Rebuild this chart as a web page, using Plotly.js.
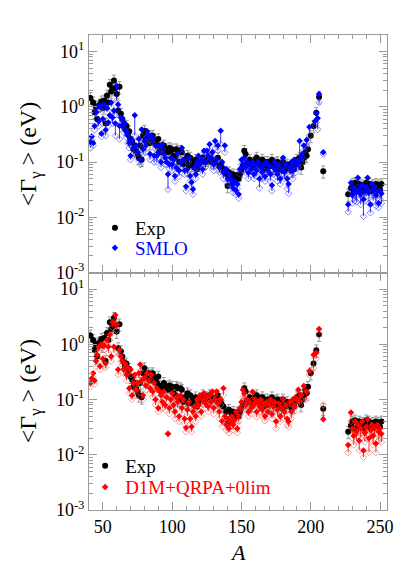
<!DOCTYPE html>
<html>
<head>
<meta charset="utf-8">
<script src="https://cdn.plot.ly/plotly-3.0.1.min.js"></script>
<style>
  html, body { margin: 0; padding: 0; background: #fff; }
  #chart { width: 415px; height: 588px; }
</style>
</head>
<body>
<div id="chart"></div>
<script>
// experimental average radiative widths <Gamma_gamma> (eV) vs mass number A
const expA = [
  41, 43, 44, 45, 46, 47, 48, 49, 50, 51,
  52, 53, 54, 55, 56, 57, 58, 59, 60, 61,
  62, 63, 64, 65, 66, 67, 68, 69, 70, 71,
  72, 73, 74, 75, 76, 77, 78, 79, 80, 81,
  82, 83, 84, 85, 86, 87, 88, 89, 90, 91,
  92, 93, 94, 95, 96, 97, 98, 99, 100, 101,
  102, 103, 104, 105, 106, 107, 108, 109, 110, 111,
  112, 113, 114, 115, 116, 117, 118, 119, 121, 122,
  123, 124, 125, 127, 128, 129, 131, 133, 134, 135,
  136, 137, 139, 140, 141, 143, 144, 145, 147, 148,
  149, 150, 151, 152, 153, 154, 155, 156, 157, 158,
  159, 160, 161, 162, 163, 164, 165, 166, 167, 168,
  169, 170, 171, 172, 173, 174, 175, 176, 177, 178,
  179, 180, 181, 182, 183, 185, 186, 187, 188, 189,
  190, 191, 192, 193, 194, 195, 196, 197, 198, 200,
  202, 204, 206, 209, 227, 229, 230, 231, 232, 233,
  234, 235, 236, 237, 238, 239, 240, 241, 242, 243,
  244, 245, 246, 247, 248, 249, 250, 251
];
const expG = [
  1.45, 1.2, 0.8, 1.0, 0.6, 1.05, 1.1, 1.25, 0.95, 1.3,
  0.5, 1.6, 1.2, 2.5, 1.9, 2.1, 3.0, 2.2, 1.7, 0.85,
  2.3, 0.75, 0.6, 0.48, 0.4, 0.45, 0.33, 0.36, 0.26, 0.23,
  0.17, 0.2, 0.16, 0.14, 0.12, 0.2, 0.11, 0.3, 0.37, 0.26,
  0.25, 0.3, 0.22, 0.28, 0.3, 0.25, 0.22, 0.2, 0.26, 0.18,
  0.15, 0.17, 0.2, 0.16, 0.17, 0.15, 0.18, 0.16, 0.17, 0.13,
  0.12, 0.17, 0.16, 0.1, 0.16, 0.15, 0.09, 0.11, 0.1, 0.13,
  0.085, 0.12, 0.09, 0.1, 0.08, 0.11, 0.075, 0.09, 0.1, 0.12,
  0.11, 0.1, 0.11, 0.12, 0.1, 0.11, 0.1, 0.12, 0.085, 0.09,
  0.08, 0.075, 0.06, 0.037, 0.065, 0.055, 0.06, 0.05, 0.058, 0.05,
  0.06, 0.07, 0.085, 0.16, 0.14, 0.09, 0.1, 0.11, 0.095, 0.08,
  0.1, 0.11, 0.12, 0.09, 0.1, 0.085, 0.11, 0.075, 0.1, 0.08,
  0.1, 0.09, 0.085, 0.11, 0.09, 0.08, 0.095, 0.1, 0.075, 0.09,
  0.07, 0.1, 0.085, 0.075, 0.09, 0.08, 0.07, 0.085, 0.075, 0.09,
  0.11, 0.1, 0.12, 0.08, 0.1, 0.12, 0.15, 0.13, 0.17, 0.3,
  0.45, 0.78, 1.5, 0.068, 0.026, 0.034, 0.04, 0.03, 0.042, 0.03,
  0.036, 0.04, 0.032, 0.038, 0.03, 0.035, 0.042, 0.033, 0.04, 0.036,
  0.03, 0.038, 0.033, 0.04, 0.035, 0.038, 0.032, 0.04
];

// SMLO: filled symbol and open symbol values for each nucleus
const smloA = [
  41, 42, 43, 44, 45, 46, 47, 48, 49, 50,
  51, 52, 53, 54, 55, 56, 57, 58, 59, 60,
  61, 62, 63, 64, 65, 66, 67, 68, 69, 70,
  71, 72, 73, 74, 75, 76, 77, 78, 79, 80,
  81, 82, 83, 84, 85, 86, 87, 88, 89, 90,
  91, 92, 93, 94, 95, 96, 97, 98, 99, 100,
  101, 102, 103, 104, 105, 106, 107, 108, 109, 110,
  111, 112, 113, 114, 115, 116, 117, 118, 119, 120,
  121, 122, 123, 124, 125, 126, 127, 128, 129, 130,
  131, 132, 133, 134, 135, 136, 137, 138, 139, 140,
  141, 142, 143, 144, 145, 146, 147, 148, 149, 150,
  151, 152, 153, 154, 155, 156, 157, 158, 159, 160,
  161, 162, 163, 164, 165, 166, 167, 168, 169, 170,
  171, 172, 173, 174, 175, 176, 177, 178, 179, 180,
  181, 182, 183, 184, 185, 186, 187, 188, 189, 190,
  191, 192, 193, 194, 195, 197, 199, 203, 204, 205,
  206, 209, 227, 229, 230, 231, 232, 233, 234, 235,
  236, 237, 238, 239, 240, 241, 242, 243, 244, 245,
  246, 247, 248, 249, 250, 251
];
const smloFill = [
  0.23, 0.29, 0.22, 0.45, 0.8, 1.0, 0.55, 1.05, 0.33, 0.6,
  1.1, 0.38, 0.95, 0.52, 0.7, 1.2, 0.64, 0.85, 0.5, 2.4,
  1.1, 0.45, 0.64, 0.6, 0.42, 0.5, 0.35, 0.3, 0.22, 0.13,
  0.25, 0.18, 0.7, 0.2, 0.15, 0.26, 0.11, 0.39, 0.17, 0.24,
  0.2, 0.36, 0.3, 0.14, 0.3, 0.27, 0.13, 0.2, 0.13, 0.15,
  0.2, 0.1, 0.21, 0.14, 0.12, 0.1, 0.06, 0.09, 0.12, 0.09,
  0.11, 0.056, 0.08, 0.14, 0.07, 0.1, 0.18, 0.11, 0.07, 0.036,
  0.074, 0.12, 0.056, 0.043, 0.032, 0.08, 0.06, 0.1, 0.13, 0.09,
  0.11, 0.074, 0.16, 0.1, 0.16, 0.13, 0.21, 0.12, 0.15, 0.09,
  0.24, 0.11, 0.2, 0.08, 0.37, 0.1, 0.065, 0.2, 0.075, 0.05,
  0.06, 0.049, 0.04, 0.034, 0.045, 0.031, 0.04, 0.026, 0.075, 0.11,
  0.09, 0.12, 0.08, 0.1, 0.064, 0.09, 0.075, 0.1, 0.06, 0.085,
  0.07, 0.1, 0.05, 0.08, 0.065, 0.09, 0.055, 0.1, 0.07, 0.085,
  0.06, 0.038, 0.08, 0.1, 0.07, 0.06, 0.09, 0.05, 0.075, 0.12,
  0.065, 0.09, 0.05, 0.04, 0.08, 0.1, 0.07, 0.11, 0.085, 0.1,
  0.1, 0.24, 0.12, 0.14, 0.2, 0.25, 0.43, 0.55, 0.78, 0.62,
  1.7, 0.15, 0.017, 0.042, 0.025, 0.035, 0.03, 0.028, 0.052, 0.032,
  0.026, 0.038, 0.021, 0.03, 0.035, 0.052, 0.028, 0.017, 0.04, 0.032,
  0.036, 0.025, 0.03, 0.018, 0.03, 0.027
];
const smloOpen = [
  0.18, 0.25, 0.2, 0.38, 0.6, 0.85, 0.45, 0.9, 0.29, 0.5,
  0.95, 0.3, 0.8, 0.45, 0.6, 1.0, 0.5, 0.7, 0.3, 1.3,
  0.9, 0.26, 0.5, 0.45, 0.35, 0.38, 0.28, 0.22, 0.18, 0.11,
  0.2, 0.14, 0.3, 0.16, 0.12, 0.2, 0.09, 0.3, 0.14, 0.2,
  0.15, 0.28, 0.25, 0.11, 0.24, 0.22, 0.1, 0.17, 0.1, 0.12,
  0.16, 0.08, 0.17, 0.11, 0.09, 0.09, 0.032, 0.075, 0.1, 0.07,
  0.085, 0.045, 0.065, 0.11, 0.055, 0.08, 0.14, 0.09, 0.06, 0.03,
  0.06, 0.1, 0.045, 0.035, 0.026, 0.065, 0.05, 0.08, 0.1, 0.075,
  0.085, 0.06, 0.13, 0.08, 0.12, 0.1, 0.16, 0.09, 0.12, 0.07,
  0.18, 0.09, 0.16, 0.065, 0.21, 0.08, 0.05, 0.15, 0.06, 0.04,
  0.05, 0.04, 0.034, 0.028, 0.036, 0.026, 0.033, 0.022, 0.06, 0.09,
  0.07, 0.095, 0.065, 0.08, 0.05, 0.07, 0.06, 0.08, 0.05, 0.07,
  0.055, 0.08, 0.034, 0.065, 0.05, 0.07, 0.045, 0.08, 0.055, 0.065,
  0.045, 0.03, 0.06, 0.08, 0.055, 0.045, 0.07, 0.04, 0.06, 0.09,
  0.05, 0.07, 0.033, 0.027, 0.06, 0.08, 0.05, 0.085, 0.065, 0.08,
  0.08, 0.11, 0.1, 0.12, 0.16, 0.2, 0.3, 0.45, 0.52, 0.39,
  1.2, 0.14, 0.0125, 0.03, 0.018, 0.025, 0.02, 0.019, 0.035, 0.022,
  0.017, 0.026, 0.0104, 0.02, 0.024, 0.03, 0.018, 0.012, 0.028, 0.02,
  0.025, 0.016, 0.022, 0.015, 0.021, 0.018
];

// D1M+QRPA+0lim: filled symbol and open symbol values
const d1mA = [
  41, 42, 43, 44, 45, 46, 47, 48, 49, 50,
  51, 52, 53, 54, 55, 56, 57, 58, 59, 60,
  61, 62, 63, 64, 65, 66, 67, 68, 69, 70,
  71, 72, 73, 74, 75, 76, 77, 78, 79, 80,
  81, 82, 83, 84, 85, 86, 87, 88, 89, 90,
  91, 92, 93, 94, 95, 96, 97, 98, 99, 100,
  101, 102, 103, 104, 105, 106, 107, 108, 109, 110,
  111, 112, 113, 114, 115, 116, 117, 118, 119, 120,
  121, 122, 123, 124, 125, 126, 127, 128, 129, 130,
  131, 132, 133, 134, 135, 136, 137, 138, 139, 140,
  141, 142, 143, 144, 145, 146, 147, 148, 149, 150,
  151, 152, 153, 154, 155, 156, 157, 158, 159, 160,
  161, 162, 163, 164, 165, 166, 167, 168, 169, 170,
  171, 172, 173, 174, 175, 176, 177, 178, 179, 180,
  181, 182, 183, 184, 185, 186, 187, 188, 189, 190,
  191, 192, 193, 195, 197, 199, 202, 204, 206, 209,
  227, 229, 230, 231, 232, 233, 234, 235, 236, 237,
  238, 239, 240, 241, 242, 243, 244, 245, 246, 247,
  248, 249, 250, 251
];
const d1mFill = [
  0.2, 0.24, 0.3, 0.22, 0.5, 0.65, 0.9, 0.4, 1.0, 0.55,
  0.95, 0.45, 1.2, 0.9, 1.5, 0.6, 2.5, 0.9, 3.4, 2.3,
  0.35, 0.8, 0.6, 0.5, 0.35, 0.45, 0.28, 0.38, 0.16, 0.35,
  0.12, 0.2, 0.28, 0.15, 0.2, 0.3, 0.43, 0.22, 0.12, 0.25,
  0.18, 0.3, 0.22, 0.16, 0.28, 0.14, 0.2, 0.1, 0.16, 0.07,
  0.14, 0.12, 0.09, 0.14, 0.08, 0.11, 0.024, 0.07, 0.1, 0.13,
  0.08, 0.06, 0.11, 0.09, 0.05, 0.12, 0.07, 0.1, 0.045, 0.031,
  0.065, 0.09, 0.045, 0.032, 0.06, 0.075, 0.05, 0.1, 0.08, 0.12,
  0.06, 0.1, 0.13, 0.085, 0.11, 0.075, 0.12, 0.09, 0.14, 0.07,
  0.1, 0.14, 0.085, 0.06, 0.1, 0.041, 0.16, 0.05, 0.035, 0.045,
  0.03, 0.04, 0.05, 0.035, 0.042, 0.06, 0.03, 0.05, 0.07, 0.09,
  0.15, 0.13, 0.08, 0.1, 0.06, 0.09, 0.07, 0.138, 0.08, 0.1,
  0.06, 0.09, 0.075, 0.1, 0.065, 0.085, 0.05, 0.09, 0.06, 0.08,
  0.1, 0.055, 0.075, 0.09, 0.04, 0.065, 0.085, 0.05, 0.07, 0.1,
  0.06, 0.08, 0.045, 0.04, 0.09, 0.06, 0.1, 0.075, 0.11, 0.1,
  0.15, 0.094, 0.12, 0.175, 0.14, 0.33, 0.65, 0.7, 1.9, 0.044,
  0.015, 0.058, 0.03, 0.022, 0.04, 0.026, 0.035, 0.018, 0.03, 0.04,
  0.012, 0.025, 0.032, 0.044, 0.02, 0.028, 0.035, 0.022, 0.03, 0.016,
  0.035, 0.026, 0.03, 0.024
];
const d1mOpen = [
  0.17, 0.2, 0.25, 0.19, 0.4, 0.55, 0.75, 0.35, 0.85, 0.45,
  0.8, 0.38, 1.0, 0.7, 1.2, 0.5, 2.0, 0.7, 2.6, 1.8,
  0.28, 0.65, 0.5, 0.42, 0.3, 0.37, 0.22, 0.3, 0.13, 0.28,
  0.1, 0.16, 0.22, 0.12, 0.16, 0.24, 0.33, 0.18, 0.1, 0.2,
  0.15, 0.25, 0.18, 0.13, 0.22, 0.11, 0.16, 0.08, 0.13, 0.06,
  0.11, 0.09, 0.07, 0.1, 0.065, 0.09, 0.024, 0.055, 0.08, 0.1,
  0.065, 0.045, 0.09, 0.07, 0.04, 0.1, 0.055, 0.08, 0.036, 0.026,
  0.05, 0.07, 0.036, 0.026, 0.05, 0.06, 0.04, 0.08, 0.065, 0.09,
  0.05, 0.08, 0.1, 0.07, 0.09, 0.06, 0.095, 0.07, 0.11, 0.055,
  0.08, 0.11, 0.065, 0.045, 0.08, 0.033, 0.12, 0.04, 0.028, 0.035,
  0.025, 0.032, 0.04, 0.028, 0.033, 0.05, 0.025, 0.04, 0.055, 0.07,
  0.11, 0.1, 0.065, 0.08, 0.05, 0.07, 0.055, 0.1, 0.065, 0.08,
  0.048, 0.07, 0.06, 0.08, 0.05, 0.068, 0.041, 0.07, 0.05, 0.065,
  0.08, 0.045, 0.06, 0.07, 0.03, 0.05, 0.065, 0.04, 0.055, 0.08,
  0.045, 0.06, 0.035, 0.032, 0.07, 0.045, 0.08, 0.06, 0.09, 0.08,
  0.12, 0.08, 0.1, 0.14, 0.1, 0.28, 0.37, 0.55, 1.5, 0.08,
  0.011, 0.04, 0.02, 0.015, 0.028, 0.018, 0.022, 0.012, 0.02, 0.025,
  0.009, 0.017, 0.02, 0.03, 0.011, 0.019, 0.024, 0.015, 0.02, 0.011,
  0.025, 0.018, 0.02, 0.017
];

const yTickVals = [0.001, 0.01, 0.1, 1, 10];
const yTickText = ['10<sup>-3</sup>', '10<sup>-2</sup>', '10<sup>-1</sup>', '10<sup>0</sup>', '10<sup>1</sup>'];
const xTickVals = [50, 100, 150, 200, 250];

const serif = 'Liberation Serif';
const axisGrey = '#9a9a9a';

// minor log ticks 2..9 in every decade
const minorLog = [];
for (let d = -3; d <= 1; d++) {
  for (let m = 2; m <= 9; m++) minorLog.push(m * Math.pow(10, d));
}

function expTrace(xa, ya, legend) {
  return {
    x: expA, y: expG, xaxis: xa, yaxis: ya,
    type: 'scatter', mode: 'markers', name: 'Exp', legend: legend,
    marker: {symbol: 'circle', size: 6, color: '#000'},
    error_y: {type: 'percent', value: 25, color: '#999', thickness: 1, width: 2}
  };
}

// filled symbol joined to its open partner by a thin vertical line
function modelTraces(name, A, fill, open, color, openColor, xa, ya, legend) {
  const up = fill.map((v, i) => Math.max(0, open[i] - v));
  const down = fill.map((v, i) => Math.max(0, v - open[i]));
  return [
    {
      x: A, y: open, xaxis: xa, yaxis: ya,
      type: 'scatter', mode: 'markers', showlegend: false, hoverinfo: 'skip',
      marker: {symbol: 'diamond-open', size: 5, color: openColor, line: {width: 1}}
    },
    {
      x: A, y: fill, xaxis: xa, yaxis: ya,
      type: 'scatter', mode: 'markers', name: name, legend: legend,
      marker: {symbol: 'diamond', size: 5, color: color},
      error_y: {type: 'data', symmetric: false, array: up, arrayminus: down,
                color: color, thickness: 0.8, width: 0}
    }
  ];
}

const data = [
  expTrace('x2', 'y', 'legend'),
  ...modelTraces('SMLO', smloA, smloFill, smloOpen, '#0000ff', 'rgba(70,70,255,0.65)', 'x2', 'y', 'legend2'),
  expTrace('x', 'y2', 'legend3'),
  ...modelTraces('D1M+QRPA+0lim', d1mA, d1mFill, d1mOpen, '#ff0000', 'rgba(255,100,100,0.65)', 'x', 'y2', 'legend4')
];

const xCommon = {
  range: [40, 255], tickmode: 'array', tickvals: xTickVals,
  ticks: 'inside', ticklen: 8, tickcolor: axisGrey, tickwidth: 1,
  showline: true, linecolor: axisGrey, linewidth: 1, mirror: 'ticks',
  showgrid: false, zeroline: false,
  minor: {dtick: 10, tick0: 0, ticks: 'inside', ticklen: 4, tickcolor: axisGrey, showgrid: false},
  tickfont: {family: serif, size: 18, color: '#000'}
};
const yCommon = {
  type: 'log', range: [-3, 1.3], tickmode: 'array', tickvals: yTickVals, ticktext: yTickText,
  ticks: 'inside', ticklen: 8, tickcolor: axisGrey, tickwidth: 1,
  showline: true, linecolor: axisGrey, linewidth: 1, mirror: 'ticks',
  showgrid: false, zeroline: false,
  minor: {tickmode: 'array', tickvals: minorLog, ticks: 'inside', ticklen: 4, tickcolor: axisGrey, showgrid: false},
  tickfont: {family: serif, size: 18, color: '#000'}
};

function legendAt(x, y, color) {
  return {
    x: x, y: y, xanchor: 'left', yanchor: 'middle',
    bgcolor: 'rgba(0,0,0,0)', borderwidth: 0,
    font: {family: serif, size: 19, color: color}
  };
}

const layout = {
  width: 415, height: 588,
  margin: {l: 89, r: 28, t: 35, b: 78},
  paper_bgcolor: '#fff', plot_bgcolor: '#fff',
  font: {family: serif},
  showlegend: true,
  xaxis: Object.assign({}, xCommon, {domain: [0, 1], anchor: 'y2'}),
  xaxis2: Object.assign({}, xCommon, {domain: [0, 1], anchor: 'y', matches: 'x', showticklabels: false}),
  yaxis: Object.assign({}, yCommon, {domain: [0.5, 1], anchor: 'x2'}),
  yaxis2: Object.assign({}, yCommon, {domain: [0, 0.5], anchor: 'x'}),
  legend: legendAt(0.02, 0.594, '#000'),
  legend2: legendAt(0.02, 0.552, '#0000ff'),
  legend3: legendAt(-0.013, 0.093, '#000'),
  legend4: legendAt(-0.013, 0.048, '#ff0000'),
  annotations: [
    {text: '&lt;Γ<sub>γ</sub> &gt; (eV)', xref: 'paper', yref: 'paper', x: -0.198, y: 0.749,
     textangle: -90, showarrow: false, xanchor: 'center', yanchor: 'middle',
     font: {family: serif, size: 24, color: '#000'}},
    {text: '&lt;Γ<sub>γ</sub> &gt; (eV)', xref: 'paper', yref: 'paper', x: -0.198, y: 0.25,
     textangle: -90, showarrow: false, xanchor: 'center', yanchor: 'middle',
     font: {family: serif, size: 24, color: '#000'}},
    {text: '<i>A</i>', xref: 'paper', yref: 'paper', x: 0.5, y: -0.09,
     showarrow: false, xanchor: 'center', yanchor: 'middle',
     font: {family: serif, size: 22, color: '#000'}}
  ]
};

Plotly.newPlot('chart', data, layout, {displayModeBar: false, staticPlot: true});
</script>
</body>
</html>
